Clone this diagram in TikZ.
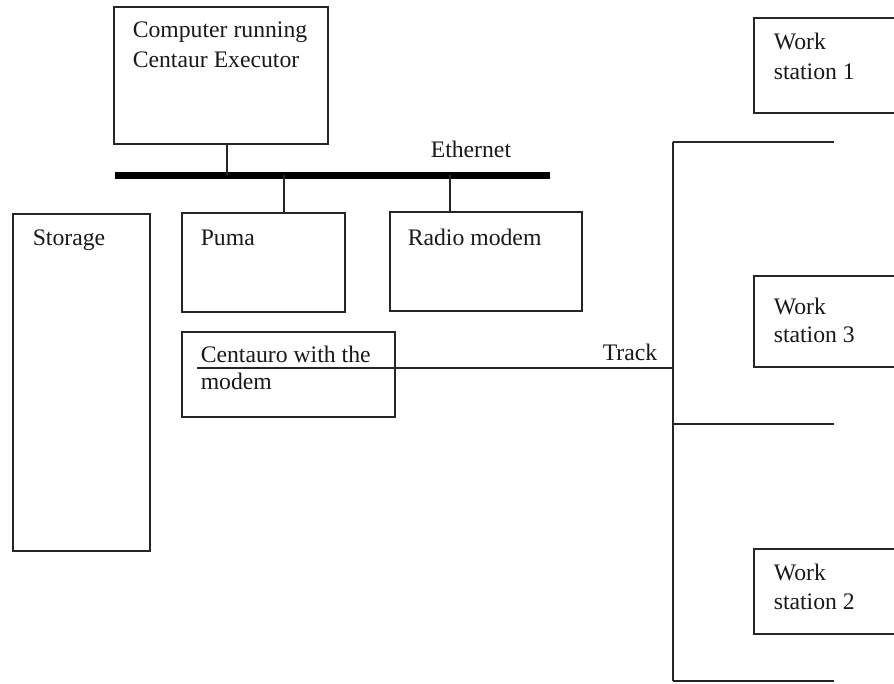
\documentclass[tikz,border=0pt]{standalone}
\usepackage{fontspec}
\setmainfont{Liberation Serif}
\usetikzlibrary{calc}
\begin{document}
\begin{tikzpicture}[x=1pt,y=-1pt,
  line width=1.6pt,
  box/.style={draw=black!85, line width=1.6pt, rectangle, inner sep=0pt, outer sep=0pt, anchor=north west},
  txt/.style={anchor=base west, inner sep=0pt, font=\fontsize{23.7pt}{30pt}\selectfont, text=black!90},
  wire/.style={draw=black!85, line width=1.6pt},
  bus/.style={draw=black, line width=7pt}]
\useasboundingbox (0,0) rectangle (894,683);

% equipment boxes
\node[box, minimum width=214pt, minimum height=137pt] (comp) at (114,7) {};
\node[box, minimum width=137pt, minimum height=337pt] (storage) at (13,214) {};
\node[box, minimum width=163pt, minimum height=99pt] (puma) at (182,213) {};
\node[box, minimum width=192pt, minimum height=99pt] (radio) at (390,212) {};
\node[box, minimum width=213pt, minimum height=85pt] (centauro) at (182,332) {};
\node[box, minimum width=150pt, minimum height=95pt] (ws1) at (754,18) {};
\node[box, minimum width=150pt, minimum height=91pt] (ws3) at (754,276) {};
\node[box, minimum width=150pt, minimum height=85pt] (ws2) at (754,549) {};

% labels
\node[txt] (tcomp1) at (132,37) {Computer running};
\node[txt] (tcomp2) at (132,67) {Centaur Executor};
\node[txt] (teth) at (430,157) {Ethernet};
\node[txt] (tstor) at (32,245) {Storage};
\node[txt] (tpuma) at (200,245) {Puma};
\node[txt] (tradio) at (407,245) {Radio modem};
\node[txt] (tcen1) at (200,362) {Centauro with the};
\node[txt] (tcen2) at (200,389) {modem};
\node[txt] (ttrack) at (602,360) {Track};
\node[txt] (tws1a) at (773,49) {Work};
\node[txt] (tws1b) at (773,79) {station 1};
\node[txt] (tws3a) at (773,314) {Work};
\node[txt] (tws3b) at (773,342) {station 3};
\node[txt] (tws2a) at (773,580) {Work};
\node[txt] (tws2b) at (773,609) {station 2};

% Ethernet bus
\coordinate (ethL) at (115,175);
\coordinate (ethR) at (550,175);
\draw[bus] (ethL) -- (ethR);

% drops onto the bus
\coordinate (compdrop) at (227,144);
\coordinate (pumadrop) at (284,213);
\coordinate (radiodrop) at (450,212);
\draw[wire] (compdrop) -- (compdrop |- ethL);
\draw[wire] (pumadrop) -- (pumadrop |- ethL);
\draw[wire] (radiodrop) -- (radiodrop |- ethL);

% track
\coordinate (trackstart) at (197,368);
\coordinate (trackTop) at (673,142);
\coordinate (trackBot) at (673,681);
\coordinate (trackMid) at (673,424);
\draw[wire] (trackstart) -- (trackstart -| trackTop);
\draw[wire] (trackTop) -- (trackBot);
\draw[wire] (trackTop) -- ++(161,0);
\draw[wire] (trackMid) -- ++(161,0);
\draw[wire] (trackBot) -- ++(161,0);
\end{tikzpicture}
\end{document}
